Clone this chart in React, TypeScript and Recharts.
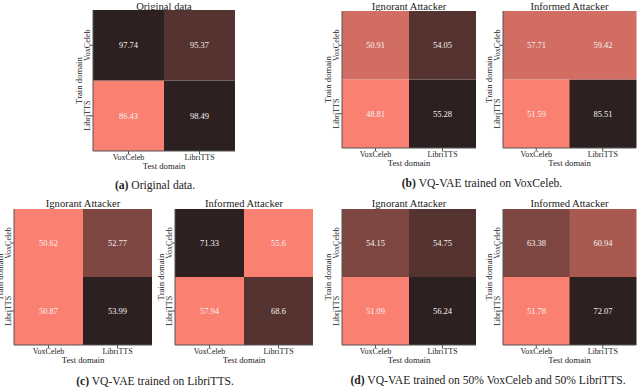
import React from "react";
import { BarChart, Bar, XAxis, YAxis, Cell, LabelList } from "recharts";

// ---- data ----
const testDomains = ["VoxCeleb", "LibriTTS"];
const trainDomains = ["VoxCeleb", "LibriTTS"];
// rows = train domain (VoxCeleb, LibriTTS), cols = test domain (VoxCeleb, LibriTTS)
const originalData = [
  [97.74, 95.37],
  [86.43, 98.49],
];
const voxIgnorant = [
  [50.91, 54.05],
  [48.81, 55.28],
];
const voxInformed = [
  [57.71, 59.42],
  [51.59, 85.51],
];
const libriIgnorant = [
  [50.62, 52.77],
  [50.87, 53.99],
];
const libriInformed = [
  [71.33, 55.6],
  [57.94, 68.6],
];
const mixIgnorant = [
  [54.15, 54.75],
  [51.09, 56.24],
];
const mixInformed = [
  [63.38, 60.94],
  [51.78, 72.07],
];

const FONT = "'Liberation Serif', 'Times New Roman', serif";
const BORDER = "#555";
const LIGHT = [250, 128, 114];
const DARK = [44, 32, 32];
const N_COLORS = 6;

function heatColor(v: number, min: number, max: number) {
  const t = max === min ? 0 : (v - min) / (max - min);
  const bin = Math.min(N_COLORS - 1, Math.floor(t * N_COLORS));
  const s = bin / (N_COLORS - 1);
  const c = LIGHT.map((l, i) => Math.round(l + (DARK[i] - l) * s));
  return `rgb(${c[0]},${c[1]},${c[2]})`;
}

type Box = { x0: number; x1: number; y0: number; y1: number };

const ML = 30;
const MT = 4;
const MR = 4;
const XH = 22;

function Heatmap({ title, matrix, box }: { title: string; matrix: number[][]; box: Box }) {
  const flat = matrix.flat();
  const min = Math.min(...flat);
  const max = Math.max(...flat);
  const data = testDomains.map((t, j) => ({
    test: t,
    vox: matrix[0][j],
    libri: matrix[1][j],
    voxUnit: 1,
    libriUnit: 1,
  }));
  const w = box.x1 - box.x0 + ML + MR;
  const h = box.y1 - box.y0 + MT + XH;

  const XTick = (p: any) => (
    <text x={p.x} y={p.y + 6} textAnchor="middle" style={{ fontFamily: FONT, fontSize: 8 }} fill="#222">
      {p.payload.value}
    </text>
  );
  const YTick = (p: any) => {
    const label = trainDomains[1 - Math.floor(p.payload.value)];
    const x = p.x + 2;
    return (
      <text
        x={x}
        y={p.y}
        transform={`rotate(-90, ${x}, ${p.y})`}
        textAnchor="middle"
        style={{ fontFamily: FONT, fontSize: 8 }}
        fill="#222"
      >
        {label}
      </text>
    );
  };

  return (
    <>
      <div
        style={{
          position: "absolute",
          left: (box.x0 + box.x1) / 2 - 100,
          width: 200,
          top: Math.max(1, box.y0 - 11),
          height: 11,
          lineHeight: "11px",
          textAlign: "center",
          fontFamily: FONT,
          fontSize: 10.6,
          color: "#222",
          whiteSpace: "nowrap",
        }}
      >
        {title}
      </div>
      <div style={{ position: "absolute", left: box.x0 - ML, top: box.y0 - MT, width: w, height: h, fontFamily: FONT }}>
        <BarChart
          width={w}
          height={h}
          data={data}
          margin={{ top: MT, right: MR, left: 0, bottom: 0 }}
          barCategoryGap={0}
          barGap={0}
          style={{ overflow: "visible", fontFamily: FONT }}
        >
          <XAxis
            dataKey="test"
            height={XH}
            interval={0}
            tickSize={3}
            tickMargin={0}
            tickLine={{ stroke: BORDER }}
            axisLine={{ stroke: BORDER }}
            tick={(p: any) => <XTick {...p} />}
            label={{
              content: (lp: any) => {
                const vb = lp.viewBox;
                return (
                  <text x={vb.x + vb.width / 2} y={vb.y + 17.5} textAnchor="middle" style={{ fontFamily: FONT, fontSize: 8.7 }} fill="#222">
                    Test domain
                  </text>
                );
              },
            }}
          />
          <XAxis
            xAxisId="top"
            dataKey="test"
            orientation="top"
            height={0}
            tick={false}
            tickLine={false}
            axisLine={{ stroke: BORDER }}
          />
          <YAxis
            type="number"
            domain={[0, 2]}
            ticks={[0.5, 1.5]}
            width={ML}
            interval={0}
            tickSize={3}
            allowDataOverflow
            tickLine={{ stroke: BORDER }}
            axisLine={{ stroke: BORDER }}
            tick={(p: any) => <YTick {...p} />}
            label={{
              content: (lp: any) => {
                const vb = lp.viewBox;
                const x = vb.x + vb.width - 11;
                const y = vb.y + vb.height / 2;
                return (
                  <text x={x} y={y} transform={`rotate(-90, ${x}, ${y})`} textAnchor="middle" style={{ fontFamily: FONT, fontSize: 8.7 }} fill="#222">
                    Train domain
                  </text>
                );
              },
            }}
          />
          <YAxis
            yAxisId="right"
            orientation="right"
            type="number"
            domain={[0, 2]}
            width={0}
            tick={false}
            tickLine={false}
            axisLine={{ stroke: BORDER }}
          />
          <Bar dataKey="libriUnit" stackId="s" isAnimationActive={false}>
            {data.map((d, i) => (
              <Cell key={i} fill={heatColor(d.libri, min, max)} />
            ))}
            <LabelList dataKey="libri" position="center" fill="#f6f2f2" style={{ fontFamily: FONT, fontSize: 8.5 }} />
          </Bar>
          <Bar dataKey="voxUnit" stackId="s" isAnimationActive={false}>
            {data.map((d, i) => (
              <Cell key={i} fill={heatColor(d.vox, min, max)} />
            ))}
            <LabelList dataKey="vox" position="center" fill="#f6f2f2" style={{ fontFamily: FONT, fontSize: 8.5 }} />
          </Bar>
        </BarChart>
      </div>
    </>
  );
}

function Caption({ tag, text, cx, cy }: { tag: string; text: string; cx: number; cy: number }) {
  return (
    <div
      style={{
        position: "absolute",
        left: cx - 200,
        width: 400,
        top: cy - 7,
        height: 14,
        lineHeight: "14px",
        textAlign: "center",
        fontFamily: FONT,
        fontSize: 11.6,
        color: "#222",
        whiteSpace: "nowrap",
      }}
    >
      <b>{tag}</b> {text}
    </div>
  );
}

export default function App() {
  return (
    <div style={{ position: "absolute", left: 0, top: 0, width: 640, height: 387, overflow: "hidden", background: "#fff", fontFamily: FONT }}>
      <Heatmap title="Original data" matrix={originalData} box={{ x0: 93, x1: 235, y0: 10, y1: 151 }} />
      <Heatmap title="Ignorant Attacker" matrix={voxIgnorant} box={{ x0: 342, x1: 476, y0: 11, y1: 148 }} />
      <Heatmap title="Informed Attacker" matrix={voxInformed} box={{ x0: 503, x1: 636, y0: 11, y1: 148 }} />
      <Heatmap title="Ignorant Attacker" matrix={libriIgnorant} box={{ x0: 14, x1: 152, y0: 209, y1: 345 }} />
      <Heatmap title="Informed Attacker" matrix={libriInformed} box={{ x0: 175, x1: 313, y0: 209, y1: 345 }} />
      <Heatmap title="Ignorant Attacker" matrix={mixIgnorant} box={{ x0: 342, x1: 476, y0: 209, y1: 345 }} />
      <Heatmap title="Informed Attacker" matrix={mixInformed} box={{ x0: 503, x1: 636, y0: 209, y1: 345 }} />
      <Caption tag="(a)" text="Original data." cx={155} cy={186} />
      <Caption tag="(b)" text="VQ-VAE trained on VoxCeleb." cx={482} cy={184} />
      <Caption tag="(c)" text="VQ-VAE trained on LibriTTS." cx={155} cy={382} />
      <Caption tag="(d)" text="VQ-VAE trained on 50% VoxCeleb and 50% LibriTTS." cx={488} cy={381} />
    </div>
  );
}
